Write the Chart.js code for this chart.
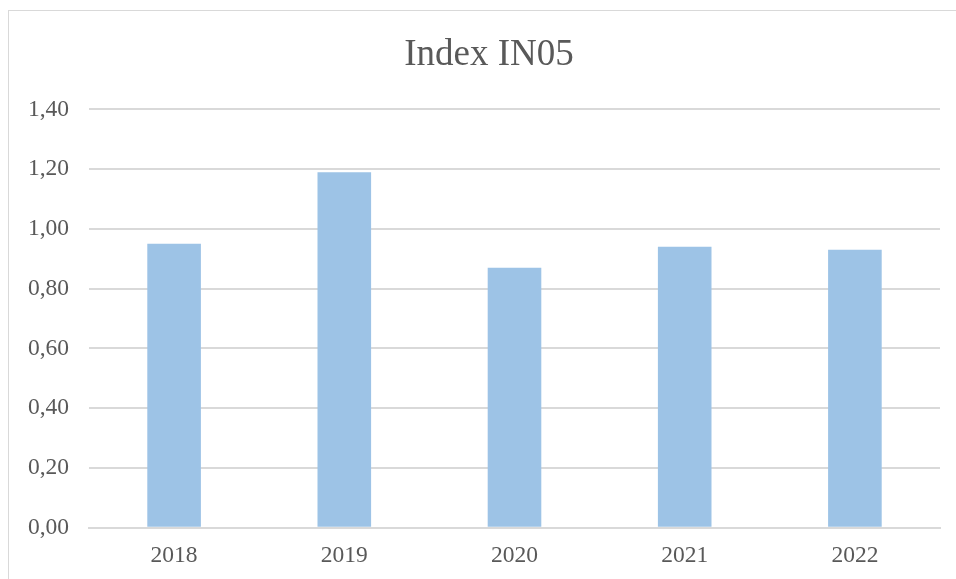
<!DOCTYPE html>
<html>
<head>
<meta charset="utf-8">
<script src="https://cdn.jsdelivr.net/npm/chart.js@4/dist/chart.umd.min.js"></script>
<style>
  html, body { margin: 0; padding: 0; background: #ffffff; overflow: hidden; }
  #wrap { position: relative; width: 956px; height: 579px; }
  #frame { position: absolute; left: 8px; top: 10px; width: 1000px; height: 700px; border: 1.5px solid #d9d9d9; box-sizing: border-box; }
  canvas { position: absolute; left: 0; top: 0; }
</style>
</head>
<body>
<div id="wrap">
  <div id="frame"></div>
  <canvas id="c" width="956" height="579"></canvas>
</div>
<script>
const categories = ['2018', '2019', '2020', '2021', '2022'];
const values = [0.95, 1.19, 0.87, 0.94, 0.93];
const yTickLabels = ['0,00', '0,20', '0,40', '0,60', '0,80', '1,00', '1,20', '1,40'];
const titleText = 'Index IN05';

const FONT = "'Liberation Serif', 'Times New Roman', serif";
const TEXT = '#595959';

// shift the title block so it is centred like the reference
const titleShift = {
  id: 'titleShift',
  afterLayout(chart) {
    const t = chart.titleBlock;
    if (t) { t.left += 38; t.width -= 0; t.right += 0; }
  }
};

new Chart(document.getElementById('c'), {
  type: 'bar',
  plugins: [titleShift],
  data: {
    labels: categories,
    datasets: [{
      data: values,
      backgroundColor: '#9dc3e6',
      borderWidth: 0,
      barPercentage: 1,
      categoryPercentage: 0.315
    }]
  },
  options: {
    responsive: false,
    animation: false,
    devicePixelRatio: 1,
    layout: { padding: { top: 33, left: 0, right: 16, bottom: 0 } },
    plugins: {
      legend: { display: false },
      tooltip: { enabled: false },
      title: {
        display: true,
        text: titleText,
        color: TEXT,
        font: { family: FONT, size: 37, weight: 'normal', lineHeight: 1.2 },
        padding: { top: 0, bottom: 32 }
      }
    },
    scales: {
      x: {
        grid: { display: false, drawTicks: false },
        border: { display: true, color: '#d9d9d9', width: 2 },
        ticks: { color: TEXT, font: { family: FONT, size: 23.5 }, padding: 14, maxRotation: 0 },
        afterFit: s => { s.height = 51.3; }
      },
      y: {
        min: 0,
        max: 1.4,
        ticks: {
          stepSize: 0.2,
          color: TEXT,
          font: { family: FONT, size: 23.5 },
          padding: 20,
          callback: (v, i) => yTickLabels[i]
        },
        grid: { color: '#d9d9d9', lineWidth: 2, drawTicks: false },
        border: { display: false },
        afterFit: s => { s.width = 89; }
      }
    }
  }
});
</script>
</body>
</html>
